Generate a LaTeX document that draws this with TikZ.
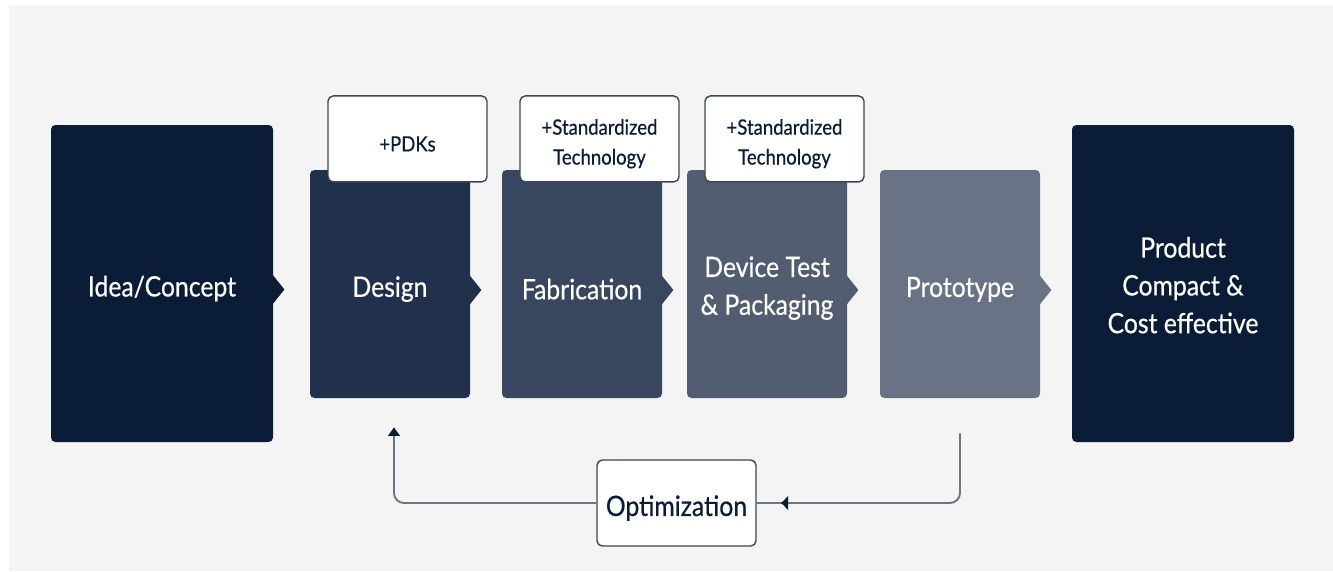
\documentclass[tikz,border=0pt]{standalone}
\usepackage{fontspec}
\setmainfont[FakeStretch=0.88, FakeBold=0.5]{Lato}
\usepackage{xcolor}
\usepackage{tikz}
\usetikzlibrary{arrows.meta, positioning, calc, decorations.markings}
\definecolor{Paper}{HTML}{F4F4F4}
\definecolor{Navy}{HTML}{0B1C36}
\definecolor{StepA}{HTML}{22314B}
\definecolor{StepB}{HTML}{38475F}
\definecolor{StepC}{HTML}{525D72}
\definecolor{StepD}{HTML}{6A7386}
\definecolor{Edge}{HTML}{3A4659}
\definecolor{Wire}{HTML}{6B7587}

\begin{document}
\begin{tikzpicture}[
  font=\fontsize{16}{21.5}\selectfont,
  stepbox/.style={rounded corners=2.5pt, align=center, text=white, inner sep=0pt, text height=17.5pt, minimum width=3.2cm, minimum height=4.56cm},
  endbox/.style={stepbox, fill=Navy, minimum width=4.44cm, minimum height=6.34cm},
  note/.style={rounded corners=3pt, draw=Edge, line width=0.8pt, fill=white, align=center, text=Navy, inner sep=0pt, text height=31.3pt, minimum width=3.18cm, minimum height=1.72cm, font=\fontsize{12}{17}\selectfont},
  loop/.style={draw=Wire, line width=1.1pt, rounded corners=0.2cm}
]
\useasboundingbox (0,0) rectangle (26.66,11.42);
\fill[Paper] (0.18,0) rectangle (26.66,11.32);

\node[endbox] (idea) at (3.24,5.75) {Idea/Concept};
\node[stepbox, fill=StepA] (design) at (7.8,5.74) {Design};
\node[stepbox, fill=StepB] (fabrication) at (11.64,5.74) {Fabrication};
\node[stepbox, fill=StepC, text height=37.9pt] (devicetest) at (15.34,5.74) {Device Test\\\& Packaging};
\node[stepbox, fill=StepD] (prototype) at (19.2,5.74) {Prototype};
\node[endbox, text height=56.7pt] (product) at (23.66,5.75) {Product\\Compact \&\\Cost effective};

% notches on the right edges
\foreach \n/\c in {idea/Navy, design/StepA, fabrication/StepB, devicetest/StepC, prototype/StepD}
  \fill[\c] ($(\n.east)+(-0.02,0.18)$) -- ++(0.24,-0.3) -- ++(-0.24,-0.3) -- cycle;

\node[note, anchor=south, text height=14.3pt] (pdk) at ($(design.north)+(0.35,-0.26)$) {+PDKs};
\node[note, anchor=south] (fabtech) at ($(fabrication.north)+(0.35,-0.26)$) {+Standardized\\Technology};
\node[note, anchor=south] (testtech) at ($(devicetest.north)+(0.35,-0.26)$) {+Standardized\\Technology};

\node[note, text height=17.5pt, font=\fontsize{16}{20}\selectfont] (optim) at (13.53,1.36) {Optimization};

% feedback loop
\coordinate (loopstart) at ($(prototype.south)+(0,-0.7)$);
\coordinate (loopend) at ($(design.south)+(0.08,-0.58)$);
\draw[loop, postaction={decorate}, decoration={markings, mark=at position -0.48cm with {\arrow{Latex[length=0.15cm, width=0.32cm, color=Navy]}}}] (loopstart) |- (optim.east);
\draw[loop, -{Triangle[length=0.17cm, width=0.23cm, color=Navy]}] (optim.west) -| (loopend);
\end{tikzpicture}
\end{document}
